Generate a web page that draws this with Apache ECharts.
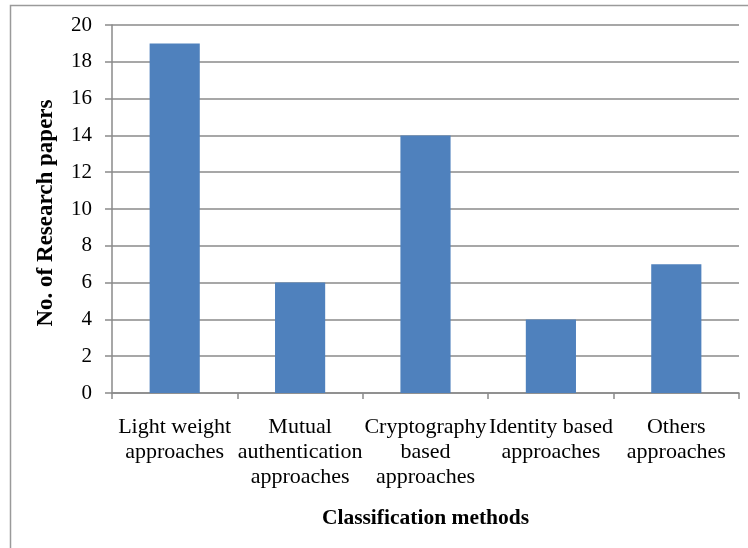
<!DOCTYPE html>
<html>
<head>
<meta charset="utf-8">
<script src="https://cdn.jsdelivr.net/npm/echarts@6/dist/echarts.min.js"></script>
<style>
  html, body { margin: 0; padding: 0; background: #fff; }
  #chart { width: 748px; height: 548px; }
</style>
</head>
<body>
<div id="chart"></div>
<script>
// Classification categories and the number of research papers in each
const categories = [
  'Light weight\napproaches',
  'Mutual\nauthentication\napproaches',
  'Cryptography\nbased\napproaches',
  'Identity based\napproaches',
  'Others\napproaches'
];
const paperCounts = [19, 6, 14, 4, 7];
const yTicks = { min: 0, max: 20, interval: 2 };

const serif = '"Liberation Serif", "Times New Roman", serif';
const chart = echarts.init(document.getElementById('chart'), null, { renderer: 'canvas' });

chart.setOption({
  animation: false,
  backgroundColor: '#ffffff',
  graphic: [{
    type: 'rect',
    shape: { x: 10.5, y: 5.5, width: 800, height: 600 },
    style: { fill: 'none', stroke: '#9a9a9a', lineWidth: 1.5 },
    silent: true
  }],
  grid: { left: 112, right: 9, top: 25, bottom: 155, containLabel: false },
  xAxis: {
    type: 'category',
    data: categories,
    name: 'Classification methods',
    nameLocation: 'middle',
    nameGap: 114,
    nameTextStyle: { fontFamily: serif, fontSize: 21.5, fontWeight: 'bold', color: '#000' },
    axisLine: { lineStyle: { color: '#8a8a8a', width: 1.5 } },
    axisTick: { show: true, length: 6, alignWithLabel: false, lineStyle: { color: '#8a8a8a', width: 1.5 } },
    axisLabel: {
      interval: 0,
      margin: 22,
      fontFamily: serif,
      fontSize: 22,
      lineHeight: 25,
      color: '#000',
      align: 'center'
    }
  },
  yAxis: {
    type: 'value',
    min: yTicks.min,
    max: yTicks.max,
    interval: yTicks.interval,
    name: 'No. of Research papers',
    nameLocation: 'middle',
    nameGap: 54,
    nameRotate: 90,
    nameTextStyle: { fontFamily: serif, fontSize: 23, fontWeight: 'bold', color: '#000', padding: [0, 8, 0, 0] },
    axisLine: { show: true, lineStyle: { color: '#8a8a8a', width: 1.5 } },
    axisTick: { show: true, length: 7, lineStyle: { color: '#8a8a8a', width: 1.5 } },
    splitLine: { show: true, lineStyle: { color: '#8a8a8a', width: 1.5 } },
    axisLabel: { margin: 20, fontFamily: serif, fontSize: 21, color: '#000' }
  },
  series: [{
    type: 'bar',
    data: paperCounts,
    barWidth: '40%',
    itemStyle: { color: '#4f81bd' }
  }]
});
</script>
</body>
</html>
